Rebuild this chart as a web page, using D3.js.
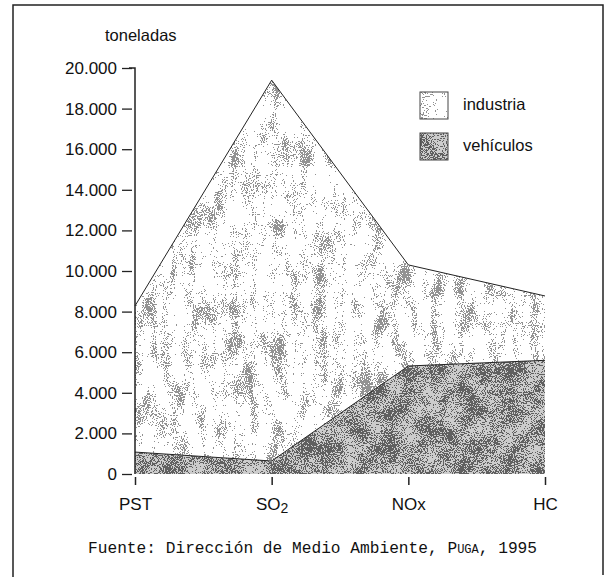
<!DOCTYPE html>
<meta charset="utf-8">
<style>
body { margin: 0; background: white; }
text { font-family: "Liberation Sans", Arial, sans-serif; fill: #111; }
.src { font-family: "Liberation Mono", "Courier New", monospace; }
</style>
<body>
<script src="https://d3js.org/d3.v7.min.js"></script>
<script>
var width = 610,
    height = 578;

// datos (toneladas)
var contaminantes = ["PST", "SO2", "NOx", "HC"];
var vehiculos = [1080, 640, 5320, 5600];
var industria = [7200, 18760, 4980, 3170];
var yTicks = [0, 2000, 4000, 6000, 8000, 10000, 12000, 14000, 16000, 18000, 20000];

var svg = d3.select("body").append("svg")
    .attr("width", width)
    .attr("height", height);

// speckled textures (fine dots modulated by blotches)
var defs = svg.append("defs");
var gray = "1 0 0 0 0  1 0 0 0 0  1 0 0 0 0  0 0 0 0 1";
function textura(id, dark, light, k3, bias, seed, blotFreq) {
  var f = defs.append("filter").attr("id", id)
      .attr("x", 0).attr("y", 0).attr("width", 1).attr("height", 1)
      .attr("color-interpolation-filters", "sRGB");
  f.append("feTurbulence").attr("type", "fractalNoise")
      .attr("baseFrequency", 0.9).attr("numOctaves", 1).attr("seed", seed).attr("result", "d0");
  f.append("feColorMatrix").attr("in", "d0").attr("type", "matrix").attr("values", gray).attr("result", "dots");
  f.append("feTurbulence").attr("type", "fractalNoise")
      .attr("baseFrequency", blotFreq).attr("numOctaves", 3).attr("seed", seed + 11).attr("result", "b0");
  f.append("feColorMatrix").attr("in", "b0").attr("type", "matrix").attr("values", gray).attr("result", "blot");
  f.append("feComposite").attr("in", "dots").attr("in2", "blot")
      .attr("operator", "arithmetic").attr("k1", 0).attr("k2", 1).attr("k3", k3).attr("k4", bias)
      .attr("result", "mix");
  var ct = f.append("feComponentTransfer").attr("in", "mix").attr("result", "bw");
  ["feFuncR", "feFuncG", "feFuncB"].forEach(function(fn) {
    ct.append(fn).attr("type", "discrete").attr("tableValues", dark + " " + light);
  });
  ct.append("feFuncA").attr("type", "linear").attr("slope", 0).attr("intercept", 1);
  f.append("feComposite").attr("in", "bw").attr("in2", "SourceGraphic").attr("operator", "in");
}
textura("tex-ind", 0.58, 1, 0.8, -0.26, 3, "0.07 0.03");
textura("tex-veh", 0.38, 0.8, 0.4, -0.19, 7, "0.05");

// frame
svg.append("path")
    .attr("d", "M13,577V5H603V575")
    .attr("fill", "none").attr("stroke", "#222").attr("stroke-width", 1.5);

var x = d3.scalePoint().domain(contaminantes).range([135, 545]);
var y = d3.scaleLinear().domain([0, 20000]).range([474, 68]);

var rows = contaminantes.map(function(c, i) {
  return { c: c, vehiculos: vehiculos[i], industria: industria[i] };
});
var series = d3.stack().keys(["vehiculos", "industria"])(rows);

var area = d3.area()
    .x(function(d) { return x(d.data.c); })
    .y0(function(d) { return y(d[0]); })
    .y1(function(d) { return y(d[1]); });

var fills = { vehiculos: "url(#tex-veh)", industria: "url(#tex-ind)" };

svg.selectAll(".area")
  .data(series)
  .enter().append("path")
    .attr("class", "area")
    .attr("d", area)
    .attr("fill", "#888")
    .attr("filter", function(d) { return fills[d.key]; });

svg.selectAll(".edge")
  .data(series)
  .enter().append("path")
    .attr("class", "edge")
    .attr("fill", "none")
    .attr("stroke", "#222")
    .attr("stroke-width", 1)
    .attr("d", d3.line()
      .x(function(d) { return x(d.data.c); })
      .y(function(d) { return y(d[1]); }));

// y axis
var yAxis = svg.append("g")
    .attr("transform", "translate(135,0)")
    .call(d3.axisLeft(y).tickValues(yTicks).tickSize(13).tickPadding(5)
      .tickFormat(function(d) { return d3.format(",")(d).replace(/,/g, "."); }));
yAxis.select(".domain").attr("stroke", "#222").attr("stroke-width", 1.5).attr("d", "M-6,68H0V474");
yAxis.selectAll(".tick line").attr("stroke", "#222").attr("stroke-width", 1.3).attr("x1", -3);
yAxis.selectAll("text").style("font-size", "17px").style("font-family", "Liberation Sans, Arial, sans-serif").attr("fill", "#111");

// x axis
var xAxis = svg.append("g")
    .attr("transform", "translate(0,476)")
    .call(d3.axisBottom(x).tickSize(9).tickPadding(13));
xAxis.select(".domain").remove();
xAxis.selectAll(".tick line").attr("stroke", "#222").attr("stroke-width", 1.5).attr("y1", 1);
xAxis.selectAll("text").style("font-size", "17px").style("font-family", "Liberation Sans, Arial, sans-serif").attr("fill", "#111")
    .text(null)
    .each(function(d) {
      var t = d3.select(this);
      if (d === "SO2") {
        t.append("tspan").text("SO");
        t.append("tspan").attr("dy", 3).style("font-size", "14px").text("2");
      } else {
        t.text(d);
      }
    });

svg.append("text")
    .attr("x", 105).attr("y", 41)
    .style("font-size", "16.5px")
    .text("toneladas");

// legend
var legend = [["industria", "url(#tex-ind)"], ["vehículos", "url(#tex-veh)"]];
var lg = svg.selectAll(".leg")
  .data(legend)
  .enter().append("g")
    .attr("class", "leg")
    .attr("transform", function(d, i) { return "translate(420," + (92 + i * 41) + ")"; });
lg.append("rect").attr("width", 28).attr("height", 27).attr("fill", "#888")
    .attr("filter", function(d) { return d[1]; });
lg.append("rect").attr("width", 28).attr("height", 27).attr("fill", "none")
    .attr("stroke", "#444").attr("stroke-width", 1);
lg.append("text").attr("x", 43).attr("y", 18).style("font-size", "16.5px")
    .text(function(d) { return d[0]; });

// fuente
var src = svg.append("text").attr("class", "src")
    .attr("x", 88).attr("y", 553).style("font-size", "16.2px");
src.append("tspan").text("Fuente: Dirección de Medio Ambiente, ");
src.append("tspan").text("P");
src.append("tspan").style("font-size", "12px").text("UGA");
src.append("tspan").text(", 1995");
</script>
</body>
</html>
